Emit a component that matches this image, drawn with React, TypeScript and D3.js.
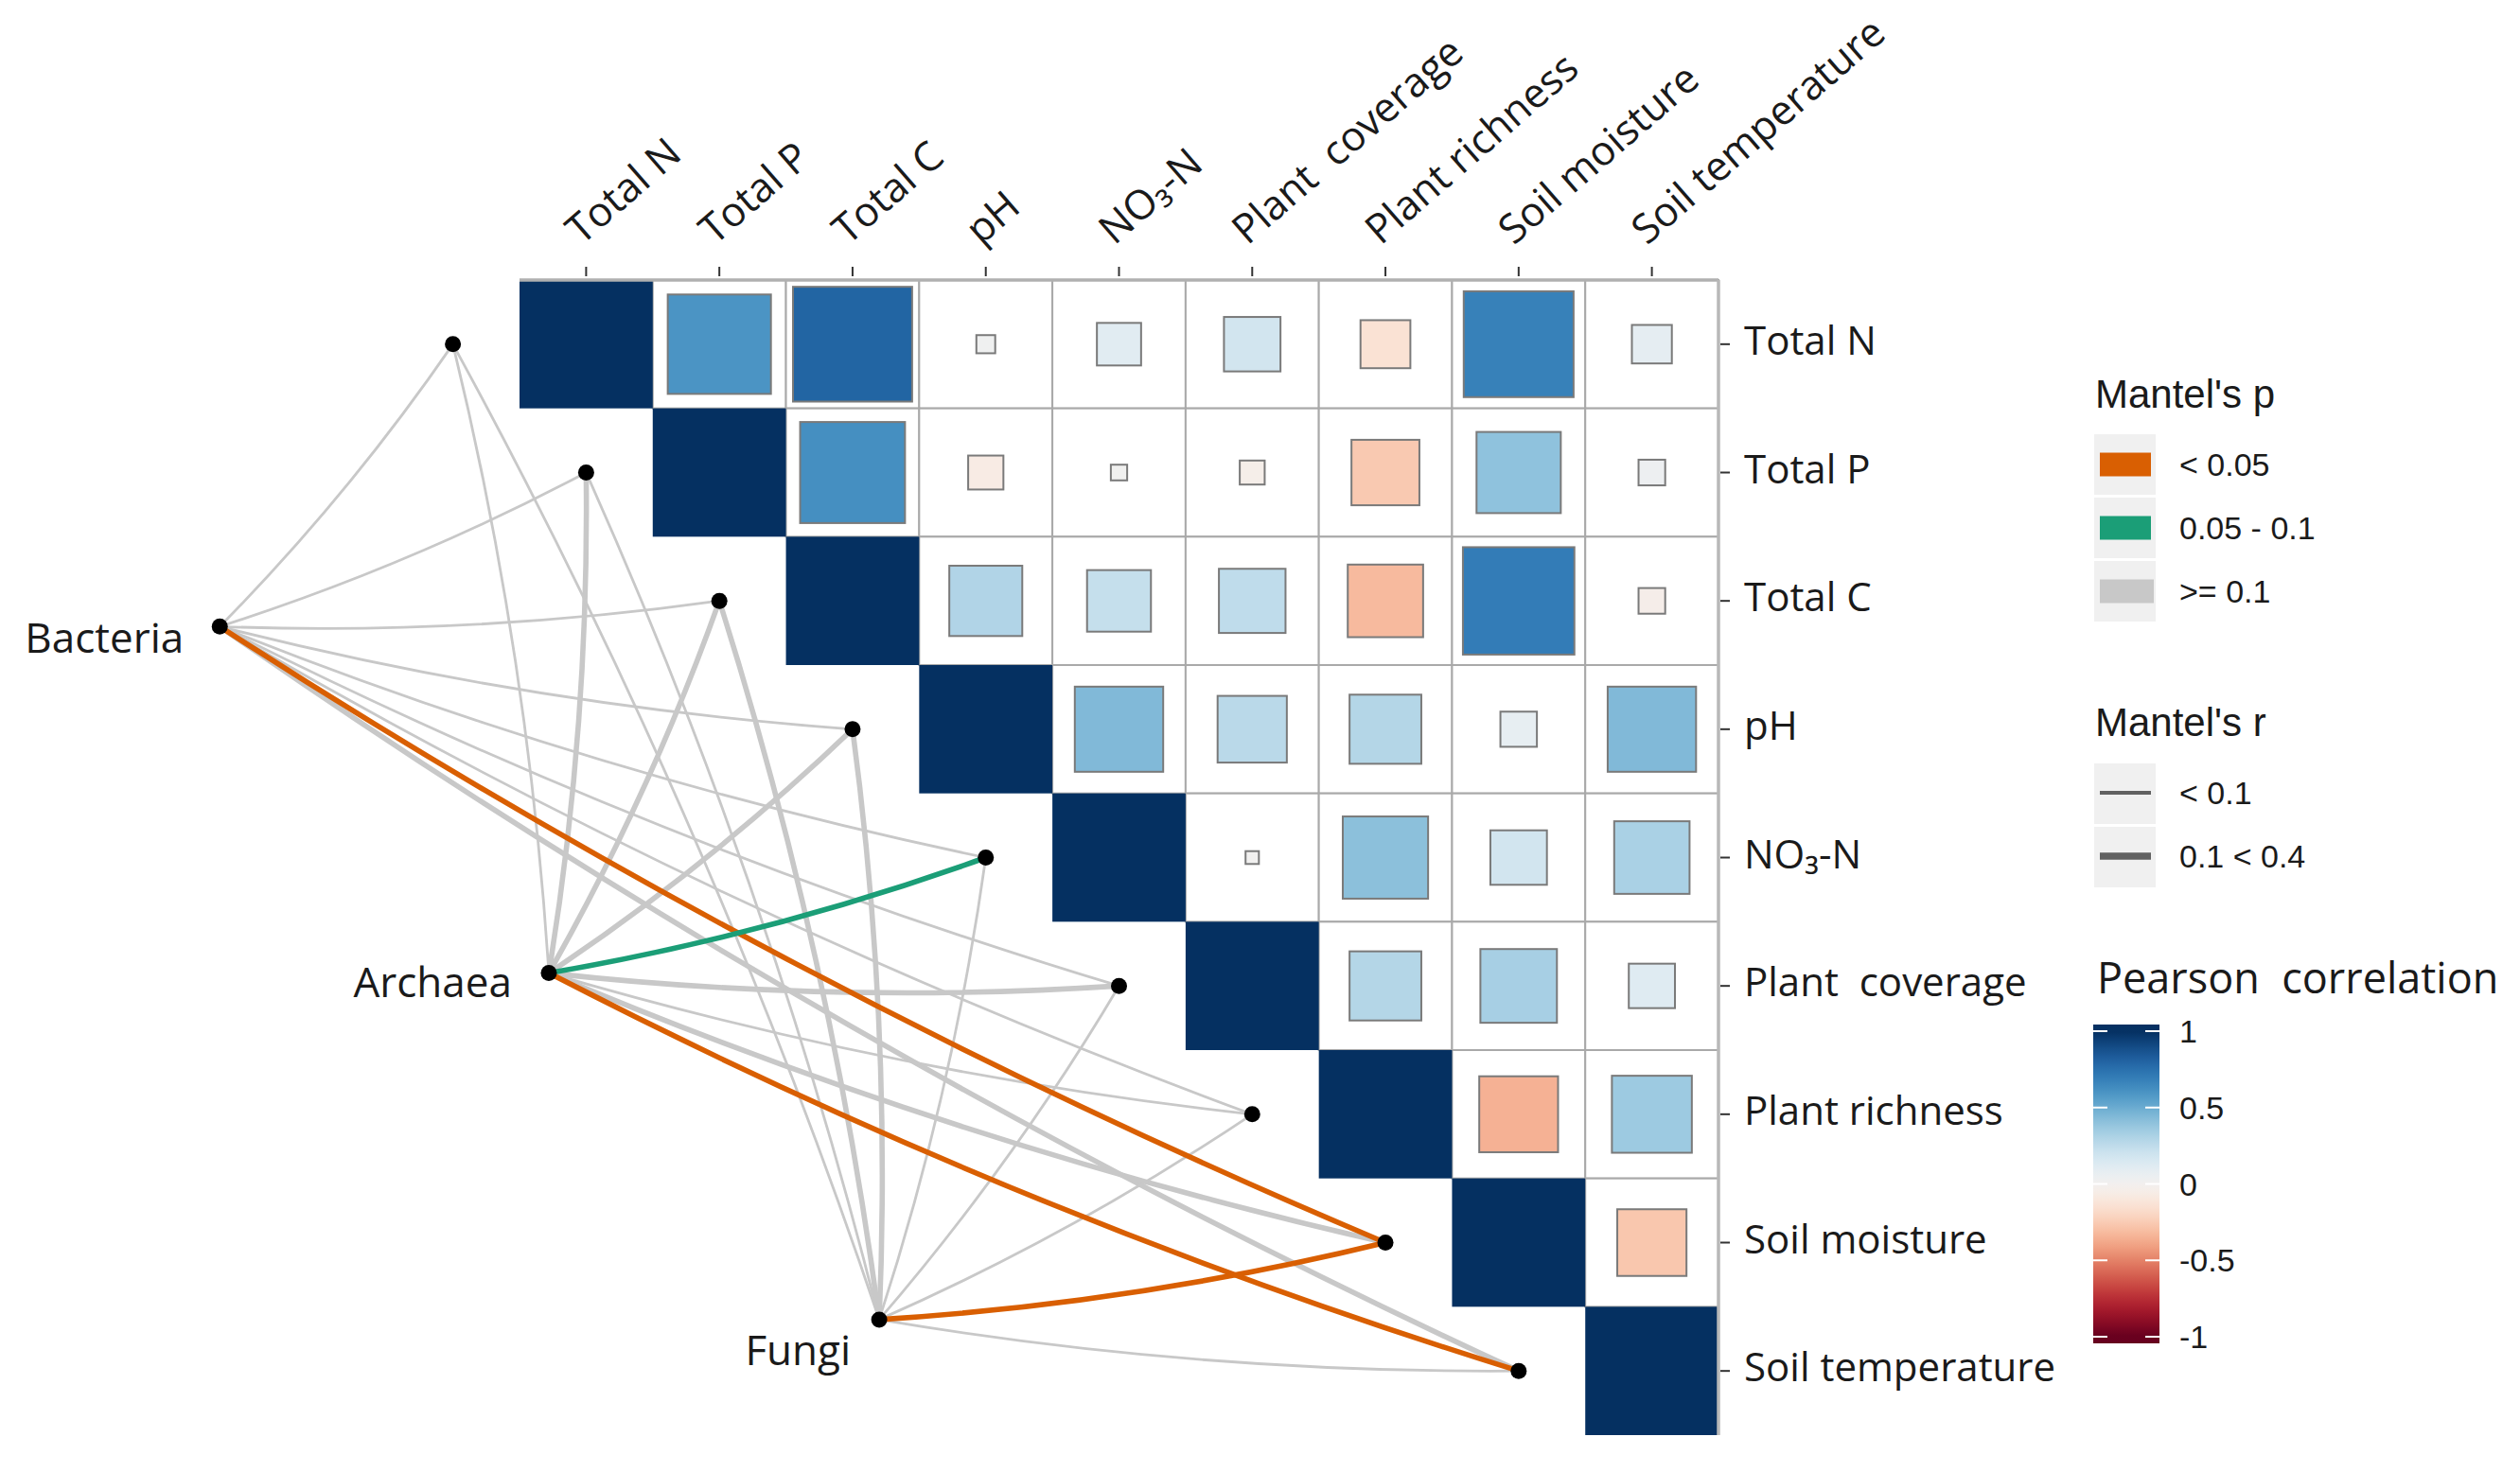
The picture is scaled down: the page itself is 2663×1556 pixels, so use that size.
import * as d3 from 'd3'

// environmental variables (matrix rows / columns)
const envVars = ['Total N', 'Total P', 'Total C', 'pH', 'NO₃-N', 'Plant  coverage', 'Plant richness', 'Soil moisture', 'Soil temperature']

// Pearson correlation, upper triangle: row i holds columns i..8
const corrRows: number[][] = [
  [1, 0.6, 0.8, 0.02, 0.11, 0.18, -0.14, 0.68, 0.09],
  [1, 0.62, -0.07, 0.015, -0.035, -0.26, 0.4, 0.04],
  [1, 0.3, 0.23, 0.25, -0.32, 0.7, -0.04],
  [1, 0.44, 0.27, 0.29, 0.075, 0.44],
  [1, 0.01, 0.41, 0.18, 0.32],
  [1, 0.29, 0.33, 0.12],
  [1, -0.35, 0.36],
  [1, -0.27],
  [1],
]

const species = ['Bacteria', 'Archaea', 'Fungi']

// Mantel's r and p for each species vs each env variable (same order as envVars)
const mantelR: number[][] = [
  [0.05, 0.06, 0.04, 0.07, 0.05, 0.06, 0.08, 0.21, 0.18],
  [0.07, 0.16, 0.19, 0.22, 0.17, 0.15, 0.06, 0.18, 0.24],
  [0.04, 0.06, 0.13, 0.15, 0.05, 0.03, 0.07, 0.25, 0.08],
]
const mantelP: number[][] = [
  [0.52, 0.41, 0.6, 0.33, 0.47, 0.38, 0.29, 0.02, 0.12],
  [0.4, 0.15, 0.13, 0.11, 0.07, 0.16, 0.45, 0.12, 0.01],
  [0.61, 0.5, 0.2, 0.18, 0.4, 0.7, 0.35, 0.01, 0.3],
]

const pBreaks = [0.05, 0.1]
const pLabels = ['< 0.05', '0.05 - 0.1', '>= 0.1']
const pColors = ['#d95f02', '#1b9e77', '#c8c8c8']
const rBreaks = [0.1]
const rLabels = ['< 0.1', '0.1 < 0.4']
const cbTicks = [1, 0.5, 0, -0.5, -1]

// layout
const W = 2663
const H = 1556
const grid = { left: 549, top: 296, right: 1816, bottom: 1517 }
const speciesAnchor = [[-2.25, 2.7], [0.22, 5.4], [2.7, 8.1]] // in grid units
const speciesLabelOffset = [[-38, 28], [-39, 25], [-30, 48]]
const topAngle = -41
const sansOpen = "'Open Sans', 'Noto Sans', sans-serif"
const sansArial = "'Liberation Sans', Arial, sans-serif"

const xs = d3.scaleLinear().domain([0, 9]).range([grid.left, grid.right])
const ys = d3.scaleLinear().domain([0, 9]).range([grid.top, grid.bottom])
const cellW = xs(1) - xs(0)
const cellH = ys(1) - ys(0)
const fill = (r: number) => d3.interpolateRdBu((r + 1) / 2)
const pColor = d3.scaleThreshold<number, string>().domain(pBreaks).range(pColors)
const rWidth = d3.scaleThreshold<number, number>().domain(rBreaks).range([2.8, 5.6])
const cbScale = d3.scaleLinear().domain([1, -1]).range([1090, 1413])

function curvePath(x0: number, y0: number, x1: number, y1: number, k = 0.044) {
  const dx = x1 - x0
  const dy = y1 - y0
  const p = d3.path()
  p.moveTo(x0, y0)
  p.quadraticCurveTo((x0 + x1) / 2 - dy * k, (y0 + y1) / 2 + dx * k, x1, y1)
  return p.toString()
}

export default function App() {
  const cells: { i: number; j: number; r: number }[] = []
  corrRows.forEach((row, i) => row.forEach((r, k) => cells.push({ i, j: i + k, r })))

  const envPts = envVars.map((_, i) => [xs(i - 0.5), ys(i + 0.5)])
  const spPts = speciesAnchor.map(([gx, gy]) => [xs(gx), ys(gy)])

  const edges: { d: string; color: string; w: number; sig: boolean }[] = []
  species.forEach((_, s) => {
    envVars.forEach((_, e) => {
      const [x0, y0] = spPts[s]
      const [x1, y1] = envPts[e]
      edges.push({
        d: curvePath(x0, y0, x1, y1),
        color: pColor(mantelP[s][e]),
        w: rWidth(mantelR[s][e]),
        sig: mantelP[s][e] < 0.1,
      })
    })
  })
  edges.sort((a, b) => Number(a.sig) - Number(b.sig))

  const gradStops = d3.range(41).map(k => {
    const v = 1.045 - (k / 40) * 2.09
    return { off: k / 40, c: fill(Math.max(-1, Math.min(1, v))) }
  })

  return (
    <svg width={W} height={H} style={{ position: 'absolute', left: 0, top: 0, background: '#fff' }}>
      <defs>
        <linearGradient id="cb" x1="0" y1="0" x2="0" y2="1">
          {gradStops.map((s, k) => <stop key={k} offset={s.off} stopColor={s.c} />)}
        </linearGradient>
      </defs>
      <rect width={W} height={H} fill="#fff" />

      {/* grid of the upper triangle */}
      {cells.filter(c => c.j > c.i).map(c => (
        <rect key={`g${c.i}-${c.j}`} x={xs(c.j)} y={ys(c.i)} width={cellW} height={cellH}
          fill="#fff" stroke="#a9a9a9" strokeWidth={2} />
      ))}

      {/* correlation squares */}
      {cells.map(c => {
        const s = Math.sqrt(Math.abs(c.r))
        const w = s * cellW
        const h = s * cellH
        return (
          <rect key={`s${c.i}-${c.j}`} x={xs(c.j + 0.5) - w / 2} y={ys(c.i + 0.5) - h / 2}
            width={w} height={h} fill={fill(c.r)}
            stroke={c.i === c.j ? 'none' : '#7a7a7a'} strokeWidth={2} />
        )
      })}
      <line x1={xs(0)} x2={xs(9)} y1={ys(0)} y2={ys(0)} stroke="#b0b0b0" strokeWidth={3.5} />
      <line x1={xs(9)} x2={xs(9)} y1={ys(0)} y2={ys(9)} stroke="#b8b8b8" strokeWidth={3.5} />

      {/* axes */}
      {envVars.map((v, i) => {
        const cx = xs(i + 0.5)
        const tx = cx - 5
        const ty = ys(0) - 36
        return (
          <g key={`top${i}`}>
            <line x1={cx} x2={cx} y1={ys(0) - 14} y2={ys(0) - 4} stroke="#333" strokeWidth={2} />
            <text x={tx} y={ty} transform={`rotate(${topAngle} ${tx} ${ty})`} fontFamily={sansOpen}
              fontSize={43} fill="#1a1a1a" style={{ whiteSpace: 'pre' }}>{v}</text>
          </g>
        )
      })}
      {envVars.map((v, i) => {
        const cy = ys(i + 0.5)
        return (
          <g key={`right${i}`}>
            <line x1={xs(9) + 2} x2={xs(9) + 12} y1={cy} y2={cy} stroke="#333" strokeWidth={2} />
            <text x={xs(9) + 27} y={cy + 11} fontFamily={sansOpen} fontSize={42} fill="#1a1a1a"
              style={{ whiteSpace: 'pre' }}>{v}</text>
          </g>
        )
      })}

      {/* Mantel links */}
      {edges.map((e, k) => (
        <path key={`e${k}`} d={e.d} fill="none" stroke={e.color} strokeWidth={e.w} strokeLinecap="round" />
      ))}
      {envPts.map(([x, y], i) => <circle key={`n${i}`} cx={x} cy={y} r={8.5} fill="#000" />)}
      {spPts.map(([x, y], s) => (
        <g key={`sp${s}`}>
          <circle cx={x} cy={y} r={8.5} fill="#000" />
          <text x={x + speciesLabelOffset[s][0]} y={y + speciesLabelOffset[s][1]} textAnchor="end"
            fontFamily={sansOpen} fontSize={44} fill="#1a1a1a">{species[s]}</text>
        </g>
      ))}

      {/* legend: Mantel's p */}
      <text x={2214} y={431} fontFamily={sansArial} fontSize={42} fill="#1a1a1a">Mantel's p</text>
      {pLabels.map((lab, k) => {
        const ky = 459 + k * 67
        return (
          <g key={`pl${k}`}>
            <rect x={2213} y={ky} width={65} height={64} fill="#f0f0f0" />
            <rect x={2219} y={ky + 19.5} width={k === 2 ? 57 : 54} height={25} fill={pColors[k]} />
            <text x={2303} y={ky + 44} fontFamily={sansArial} fontSize={34} fill="#1a1a1a">{lab}</text>
          </g>
        )
      })}

      {/* legend: Mantel's r */}
      <text x={2214} y={778} fontFamily={sansArial} fontSize={42} fill="#1a1a1a">Mantel's r</text>
      {rLabels.map((lab, k) => {
        const ky = 807 + k * 67
        return (
          <g key={`rl${k}`}>
            <rect x={2213} y={ky} width={65} height={64} fill="#f0f0f0" />
            <line x1={2219} x2={2273} y1={ky + 31} y2={ky + 31} stroke="#616161" strokeWidth={k === 0 ? 4 : 7.5} />
            <text x={2303} y={ky + 43} fontFamily={sansArial} fontSize={34} fill="#1a1a1a">{lab}</text>
          </g>
        )
      })}

      {/* legend: Pearson correlation */}
      <text x={2216} y={1050} fontFamily={sansOpen} fontSize={45} fill="#1a1a1a" style={{ whiteSpace: 'pre' }}>Pearson  correlation</text>
      <rect x={2212} y={1083} width={70} height={337} fill="url(#cb)" />
      {cbTicks.map(t => (
        <g key={`cb${t}`}>
          <line x1={2212} x2={2227} y1={cbScale(t)} y2={cbScale(t)} stroke="#fff" strokeWidth={2} />
          <line x1={2267} x2={2282} y1={cbScale(t)} y2={cbScale(t)} stroke="#fff" strokeWidth={2} />
          <text x={2303} y={cbScale(t) + 12} fontFamily={sansArial} fontSize={34} fill="#1a1a1a">{String(t)}</text>
        </g>
      ))}
    </svg>
  )
}
